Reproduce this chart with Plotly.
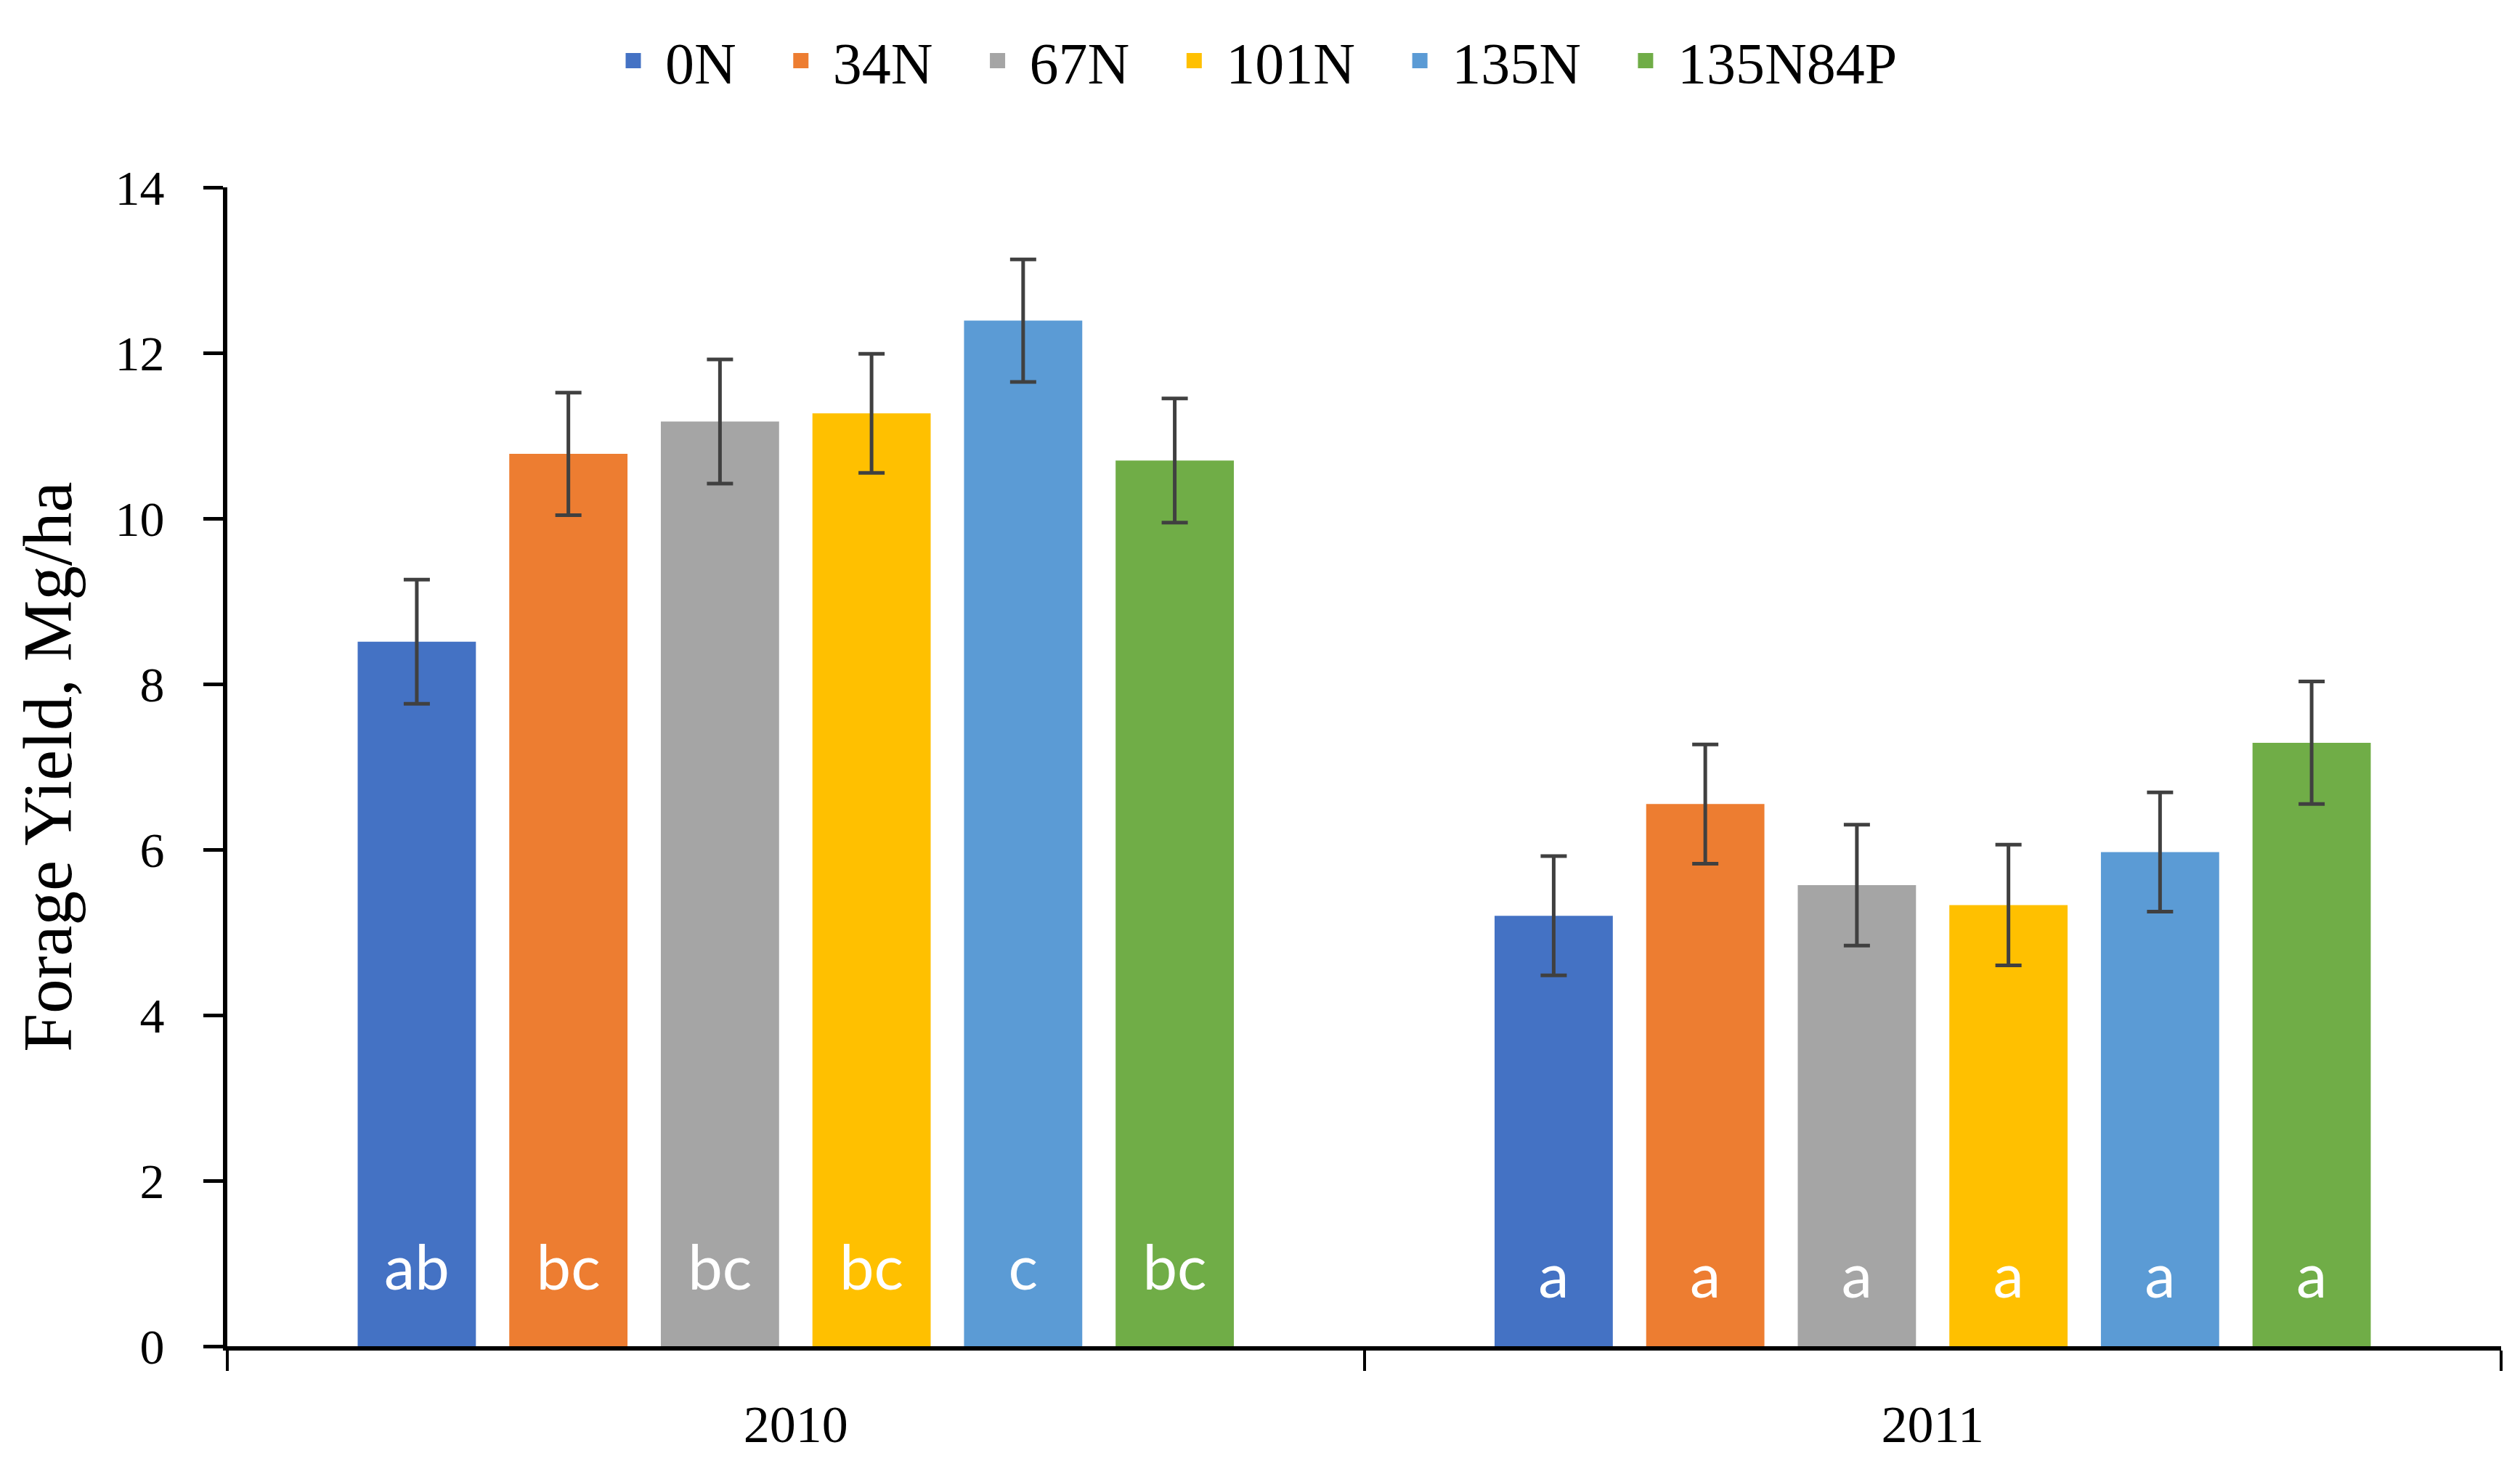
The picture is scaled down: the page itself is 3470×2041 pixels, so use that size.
import plotly.graph_objects as go

years = ["2010", "2011"]
treatments = ["0N", "34N", "67N", "101N", "135N", "135N84P"]
yield_2010 = [8.51, 10.78, 11.17, 11.27, 12.39, 10.70]
yield_2011 = [5.20, 6.55, 5.57, 5.33, 5.97, 7.29]
err_2010 = [0.75, 0.74, 0.75, 0.72, 0.74, 0.75]
err_2011 = [0.72, 0.72, 0.73, 0.73, 0.72, 0.74]
letters_2010 = ["ab", "bc", "bc", "bc", "c", "bc"]
letters_2011 = ["a", "a", "a", "a", "a", "a"]
colors = ["#4472C4", "#ED7D31", "#A5A5A5", "#FFC000", "#5B9BD5", "#70AD47"]

LABEL_Y = [0.50, 0.40]
SERIF = "Liberation Serif"
PAD = "\u00a0\u00a0"

fig = go.Figure()
for i, t in enumerate(treatments):
    fig.add_trace(go.Bar(
        x=years, y=[yield_2010[i], yield_2011[i]], name=t,
        marker=dict(color=colors[i], line=dict(width=0)),
        error_y=dict(type="data", array=[err_2010[i], err_2011[i]],
                     color="#404040", thickness=5, width=18),
        offsetgroup=str(i), showlegend=False,
    ))
for i, t in enumerate(treatments):
    fig.add_trace(go.Scatter(
        x=years, y=LABEL_Y, mode="text",
        text=[letters_2010[i], letters_2011[i]], textposition="top center",
        textfont=dict(family="Lato", size=85, color="white"),
        offsetgroup=str(i), showlegend=False, hoverinfo="skip",
    ))
for i, t in enumerate(treatments):
    fig.add_trace(go.Scatter(
        x=[None], y=[None], mode="markers", name=t + PAD,
        marker=dict(symbol="square", size=16, color=colors[i],
                    line=dict(width=5, color=colors[i])),
        offsetgroup=str(i), showlegend=True,
    ))

fig.update_layout(
    width=3470, height=2041,
    margin=dict(l=305, r=34, t=250, b=195),
    paper_bgcolor="white", plot_bgcolor="white",
    barmode="group", bargap=0.2, bargroupgap=0.22,
    scattermode="group", scattergap=0.2,
    font=dict(family=SERIF, color="black"),
    legend=dict(orientation="h", xref="container", yref="container",
                x=0.5, xanchor="center", y=0.963, yanchor="middle",
                font=dict(family=SERIF, size=80, color="black"),
                itemwidth=78),
    xaxis=dict(showline=True, linecolor="black", linewidth=6,
               ticks="outside", tickson="boundaries", ticklen=28, tickwidth=4,
               tickcolor="black", tickfont=dict(family=SERIF, size=72),
               ticklabelstandoff=40, showgrid=False),
    yaxis=dict(range=[0, 14], dtick=2, showline=True, linecolor="black",
               linewidth=6, ticks="outside", ticklen=27, tickwidth=5,
               tickcolor="black", tickfont=dict(family=SERIF, size=68),
               ticklabelstandoff=40, showgrid=False, zeroline=False,
               title=dict(text="Forage Yield, Mg/ha",
                          font=dict(family=SERIF, size=95), standoff=30)),
)

fig.write_html("out.html")
